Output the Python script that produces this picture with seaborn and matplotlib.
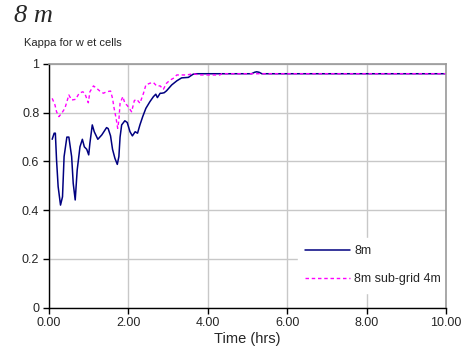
import numpy as np
import pandas as pd
import matplotlib
matplotlib.use("Agg")
import matplotlib.pyplot as plt
import seaborn as sns

# Kappa for wet cells, 8 m grid
time_8m = [0.08, 0.13, 0.16, 0.19, 0.23, 0.29, 0.34, 0.38, 0.45, 0.50, 0.57, 0.61,
           0.66, 0.71, 0.78, 0.84, 0.89, 0.95, 1.00, 1.03, 1.09, 1.14, 1.23, 1.33,
           1.45, 1.49, 1.55, 1.60, 1.66, 1.72, 1.76, 1.79, 1.83, 1.91, 1.97, 2.04,
           2.10, 2.17, 2.23, 2.29, 2.36, 2.44, 2.54, 2.63, 2.69, 2.73, 2.80, 2.84,
           2.90, 2.96, 3.09, 3.22, 3.34, 3.51, 3.63, 3.72, 4.00, 5.10, 5.18, 5.23,
           5.29, 5.36, 6.00, 8.00, 10.00]
kappa_8m = [0.691, 0.716, 0.716, 0.606, 0.497, 0.421, 0.455, 0.620, 0.700, 0.700, 0.620, 0.510,
            0.442, 0.565, 0.660, 0.691, 0.660, 0.650, 0.627, 0.675, 0.750, 0.722, 0.691, 0.709,
            0.739, 0.735, 0.705, 0.650, 0.613, 0.588, 0.620, 0.700, 0.750, 0.767, 0.760, 0.722,
            0.705, 0.722, 0.716, 0.750, 0.784, 0.818, 0.845, 0.866, 0.876, 0.862, 0.880, 0.880,
            0.882, 0.890, 0.914, 0.931, 0.943, 0.945, 0.958, 0.960, 0.960, 0.960, 0.966, 0.968,
            0.966, 0.960, 0.960, 0.960, 0.960]

# Kappa for wet cells, 8 m grid with 4 m sub-grid
time_sub = [0.08, 0.15, 0.19, 0.25, 0.32, 0.40, 0.45, 0.50, 0.57, 0.67, 0.76, 0.85,
            0.90, 0.99, 1.03, 1.12, 1.20, 1.28, 1.37, 1.45, 1.55, 1.60, 1.64, 1.69,
            1.73, 1.76, 1.79, 1.86, 1.91, 1.97, 2.02, 2.08, 2.15, 2.21, 2.29, 2.38,
            2.44, 2.54, 2.63, 2.71, 2.80, 2.88, 2.96, 3.05, 3.13, 3.22, 3.30, 3.47,
            3.63, 3.80, 4.30, 4.35, 6.00, 8.00, 10.00]
kappa_sub = [0.859, 0.832, 0.804, 0.784, 0.798, 0.818, 0.845, 0.873, 0.852, 0.855, 0.880, 0.886,
             0.880, 0.841, 0.886, 0.910, 0.900, 0.889, 0.880, 0.886, 0.889, 0.859, 0.818, 0.777,
             0.736, 0.770, 0.839, 0.866, 0.839, 0.830, 0.818, 0.804, 0.850, 0.855, 0.839, 0.880,
             0.914, 0.921, 0.924, 0.910, 0.910, 0.896, 0.921, 0.934, 0.941, 0.955, 0.955, 0.955,
             0.960, 0.955, 0.955, 0.960, 0.960, 0.960, 0.960]

series_names = ["8m", "8m sub-grid 4m"]
x_ticks = [0, 2, 4, 6, 8, 10]
y_ticks = [0, 0.2, 0.4, 0.6, 0.8, 1.0]

df = pd.concat([
    pd.DataFrame({"time": time_8m, "kappa": kappa_8m, "series": series_names[0]}),
    pd.DataFrame({"time": time_sub, "kappa": kappa_sub, "series": series_names[1]}),
])

sns.set_style("white")
plt.rcParams["font.family"] = ["Liberation Sans", "DejaVu Sans"]

fig = plt.figure(figsize=(4.73, 3.51), dpi=100)
ax = fig.add_axes([0.1036, 0.1234, 0.8394, 0.6943])

sns.lineplot(data=df[df.series == series_names[0]], x="time", y="kappa",
             color="#000080", lw=1.1, ax=ax, label=series_names[0], sort=False)
sns.lineplot(data=df[df.series == series_names[1]], x="time", y="kappa",
             color="#ff00ff", lw=1.0, ax=ax, label=series_names[1], sort=False,
             linestyle=(0, (2.5, 2)))

ax.set_xlim(0, 10)
ax.set_ylim(0, 1)
ax.set_xticks(x_ticks)
ax.set_xticklabels([f"{v:.2f}" for v in x_ticks])
ax.set_yticks(y_ticks)
ax.set_yticklabels(["0", "0.2", "0.4", "0.6", "0.8", "1"])
ax.grid(True, color="#c8c8c8", lw=1.0)
ax.set_axisbelow(True)

for side in ("left", "bottom"):
    ax.spines[side].set_color("black")
    ax.spines[side].set_linewidth(1.0)
for side in ("top", "right"):
    ax.spines[side].set_color("#999999")
    ax.spines[side].set_linewidth(1.2)

ax.tick_params(axis="both", which="major", direction="out", length=4, width=1,
               color="black", labelsize=9, pad=3)
ax.tick_params(left=True, bottom=True, right=False, top=False)

ax.set_xlabel("Time (hrs)", fontsize=10.5, labelpad=2)
ax.set_ylabel("")

leg = ax.legend(loc="upper left", bbox_to_anchor=(0.627, 0.287), frameon=True,
                fontsize=9, handlelength=3.6, labelspacing=1.3, borderpad=0.6,
                handletextpad=0.3, borderaxespad=0)
leg.get_frame().set_facecolor("white")
leg.get_frame().set_edgecolor("white")
leg.get_frame().set_alpha(1)
leg.get_frame().set_boxstyle("square", pad=0)
leg.set_zorder(2)

fig.text(0.030, 0.953, "8 m", fontsize=19, family=["Liberation Serif", "DejaVu Serif"],
         style="italic", va="center", ha="left")
fig.text(0.051, 0.878, "Kappa for w et cells", fontsize=8, va="center", ha="left")

fig.savefig("out.png", dpi=100)
